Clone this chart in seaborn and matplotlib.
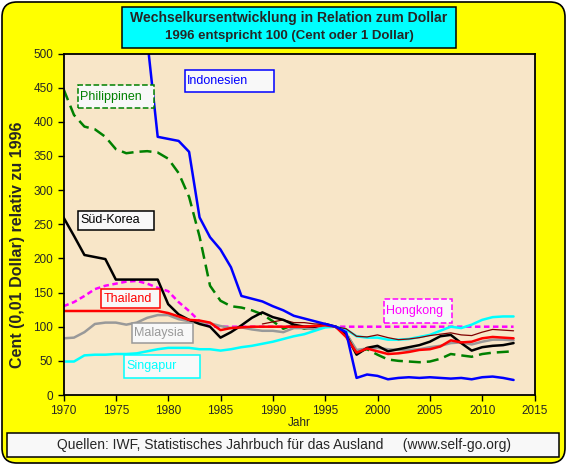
import matplotlib
matplotlib.use('Agg')
import matplotlib.pyplot as plt
import seaborn as sns
from matplotlib.patches import Rectangle, FancyBboxPatch

# --------------
# Daten (1996 = 100)
# --------------
jahre = list(range(1970, 2014))

indonesien = [560, 560, 560, 560, 560, 560, 560, 560, 520, 378,
              375, 372, 356, 260, 231, 213, 187, 145, 141, 137,
              130, 124, 116, 112, 108, 104, 100, 92, 25, 30,
              28, 23, 25, 26, 25, 26, 25, 24, 25, 23,
              26, 27, 25, 22]

philippinen = [448, 410, 393, 389, 378, 360, 354, 356, 357, 355,
               346, 325, 290, 232, 160, 138, 130, 128, 124, 118,
               108, 97, 103, 97, 99, 102, 100, 90, 64, 67,
               59, 52, 50, 49, 48, 49, 53, 60, 58, 56,
               60, 62, 63, 64]

sued_korea = [260, 233, 205, 202, 199, 169, 169, 169, 169, 169,
              133, 118, 110, 104, 100, 84, 92, 102, 113, 121,
              114, 110, 103, 100, 100, 104, 100, 88, 59, 69,
              72, 64, 67, 70, 73, 78, 86, 88, 76, 65,
              70, 72, 73, 76]

thailand = [123, 123, 123, 123, 123, 123, 123, 123, 123, 123,
            120, 115, 110, 109, 106, 95, 98, 99, 100, 100,
            100, 100, 100, 100, 101, 102, 100, 85, 62, 68,
            64, 60, 61, 63, 66, 67, 71, 80, 77, 78,
            83, 85, 84, 83]

malaysia = [83, 84, 92, 104, 106, 106, 103, 106, 113, 117,
            117, 111, 108, 107, 105, 101, 98, 99, 96, 94,
            94, 92, 98, 98, 96, 100, 100, 90, 66, 68,
            69, 67, 66, 66, 67, 70, 72, 76, 77, 74,
            78, 81, 81, 80]

singapur = [49, 49, 58, 59, 59, 60, 60, 61, 64, 67,
            69, 69, 69, 67, 67, 65, 67, 70, 72, 75,
            78, 82, 86, 89, 94, 99, 100, 96, 86, 84,
            84, 81, 81, 82, 85, 88, 94, 100, 98, 103,
            110, 114, 115, 115]

hongkong = [130, 136, 145, 155, 160, 163, 166, 167, 163, 157,
            152, 136, 123, 108, 100, 100, 100, 100, 100, 100,
            100, 100, 100, 100, 100, 100, 100, 100, 100, 100,
            100, 100, 100, 100, 100, 100, 100, 100, 100, 100,
            100, 100, 100, 100]

# duenne braune Linie ohne Beschriftung (ab 1989)
jahre_braun = list(range(1989, 2014))
braun = [104, 107, 110, 106, 106, 104, 104, 100, 97, 86,
         85, 88, 84, 81, 82, 84, 87, 89, 91, 88,
         87, 92, 96, 95, 94]

# --------------
# Setup
# --------------
sns.set_style('ticks')
plt.rcParams['font.family'] = ['Liberation Sans', 'DejaVu Sans']

fig = plt.figure(figsize=(5.67, 4.65), dpi=100)
fig.patch.set_facecolor('white')

# gelber Rahmen mit runden Ecken
rahmen = FancyBboxPatch((0.02, 0.02), 5.63, 4.61,
                        boxstyle='round,pad=0,rounding_size=0.15',
                        transform=fig.dpi_scale_trans,
                        facecolor='#FFFF00', edgecolor='black', lw=1.2, zorder=-5)
fig.patches.append(rahmen)

ax = fig.add_axes([63.5 / 567, 1 - 395 / 465, 471 / 567, 341.5 / 465])
ax.set_zorder(3)
ax.set_facecolor('#F8E6C8')

# --------------
# Linien
# --------------
sns.lineplot(x=jahre, y=philippinen, color='#008000', lw=1.8,
             linestyle=(0, (4.8, 2.4)), ax=ax)
sns.lineplot(x=jahre, y=hongkong, color='#FF00FF', lw=1.8,
             linestyle=(0, (2.2, 1.4)), ax=ax)
sns.lineplot(x=jahre, y=malaysia, color='#999999', lw=1.8, ax=ax)
sns.lineplot(x=jahre, y=singapur, color='#00FFFF', lw=1.8, ax=ax)
sns.lineplot(x=jahre_braun, y=braun, color='#800000', lw=0.9, ax=ax)
sns.lineplot(x=jahre, y=sued_korea, color='black', lw=1.8, ax=ax)
sns.lineplot(x=jahre, y=thailand, color='#FF0000', lw=1.8, ax=ax)
sns.lineplot(x=jahre, y=indonesien, color='#0000FF', lw=1.8, ax=ax)

ax.set_xlim(1970, 2015)
ax.set_ylim(0, 500)
ax.set_xticks(range(1970, 2016, 5))
ax.set_yticks(range(0, 501, 50))
ax.tick_params(labelsize=8.5, length=4, width=1, color='black')
for s in ax.spines.values():
    s.set_visible(True)
    s.set_color('black')
    s.set_linewidth(1.3)

ax.set_xlabel('Jahr', fontsize=8.5)
ax.xaxis.set_label_coords(0.5, -0.065)
ax.set_ylabel('Cent (0,01 Dollar) relativ zu 1996', fontsize=11.5, fontweight='bold')
ax.yaxis.set_label_coords(-0.082, 0.44)

# --------------
# Beschriftungskaesten (x0, x1, y_unten, y_oben)
# --------------
kaesten = [
    ('Philippinen', '#008000', '--', 1971.4, 1978.6, 420, 454),
    ('Indonesien', '#0000FF', '-', 1981.6, 1990.1, 444, 476),
    ('Süd-Korea', 'black', '-', 1971.4, 1978.6, 242, 269),
    ('Thailand', '#FF0000', '-', 1973.6, 1979.2, 127, 155),
    ('Malaysia', '#999999', '-', 1976.5, 1982.4, 76, 105),
    ('Singapur', '#00FFFF', '-', 1975.8, 1983.0, 25, 59),
    ('Hongkong', '#FF00FF', '--', 2000.6, 2007.1, 106, 140),
]
for name, farbe, stil, x0, x1, y0, y1 in kaesten:
    ax.add_patch(Rectangle((x0, y0), x1 - x0, y1 - y0, facecolor='#F8F8F8',
                           edgecolor=farbe, linestyle=stil, lw=1.1, zorder=5))
    ax.text(x0 + 0.2, (y0 + y1) / 2, name, color=farbe, fontsize=9,
            ha='left', va='center', zorder=6)

# --------------
# Titel und Quelle
# --------------
fig.patches.append(Rectangle((122 / 567, 1 - 48 / 465), 334 / 567, 41 / 465,
                             transform=fig.transFigure, facecolor='#00FFFF',
                             edgecolor='black', lw=1.1))
fig.text(289 / 567, 1 - 18 / 465, 'Wechselkursentwicklung in Relation zum Dollar',
         ha='center', va='center', fontsize=10.1, fontweight='bold')
fig.text(289 / 567, 1 - 36 / 465, '1996 entspricht 100 (Cent oder 1 Dollar)',
         ha='center', va='center', fontsize=9.5, fontweight='bold')

fig.patches.append(Rectangle((7 / 567, 1 - 457 / 465), 552 / 567, 24 / 465,
                             transform=fig.transFigure, facecolor='#F8F8F8',
                             edgecolor='black', lw=1.1))
fig.text(284 / 567, 1 - 445 / 465,
         'Quellen: IWF, Statistisches Jahrbuch für das Ausland     (www.self-go.org)',
         ha='center', va='center', fontsize=10)

plt.savefig('out.png', dpi=100)
plt.close()
